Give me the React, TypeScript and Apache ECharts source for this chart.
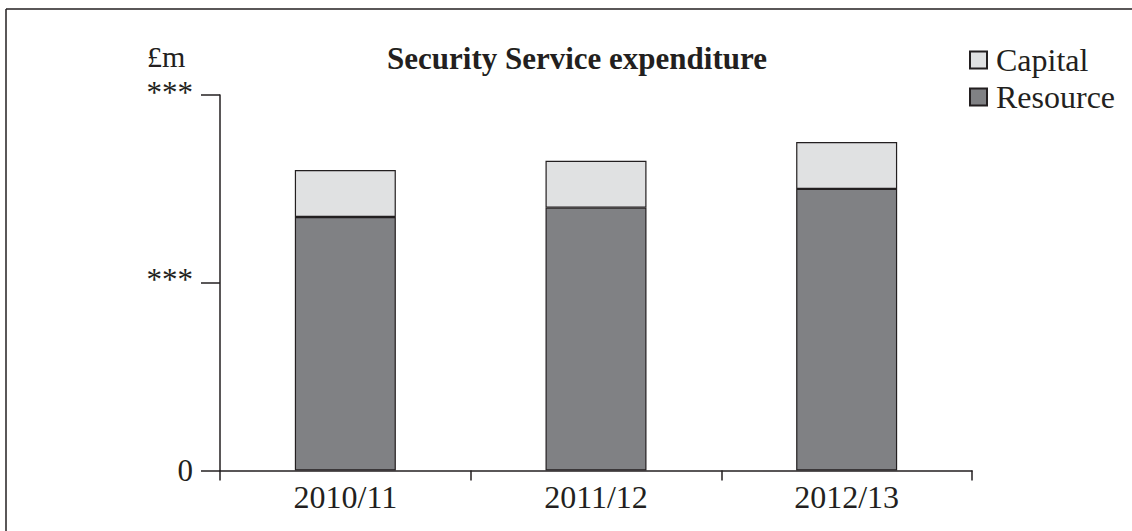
import React, { useEffect, useRef } from "react";
import * as echarts from "echarts";

const categories = ["2010/11", "2011/12", "2012/13"];
const resource = [135, 140, 150];
const capital = [25, 25, 25];
const yTickLabels: Record<number, string> = { 0: "0", 100: "***", 200: "***" };

const INK = "#231f20";
const FONT = "'Liberation Serif', 'Times New Roman', serif";

export default function App() {
  const ref = useRef<HTMLDivElement>(null);
  useEffect(() => {
    if (!ref.current) return;
    const chart = echarts.init(ref.current, undefined, { renderer: "svg" });
    chart.setOption({
      animation: false,
      backgroundColor: "#ffffff",
      textStyle: { fontFamily: FONT, color: INK },
      title: {
        text: "Security Service expenditure",
        left: 572,
        top: 38,
        textAlign: "center",
        textStyle: { fontFamily: FONT, fontWeight: "bold", fontSize: 31, color: INK },
      },
      legend: {
        orient: "vertical",
        left: 964,
        top: 39,
        itemWidth: 17,
        itemHeight: 17,
        itemGap: 5,
        icon: "rect",
        data: ["Capital", "Resource"],
        textStyle: { fontFamily: FONT, fontSize: 32, color: INK, padding: [0, 0, 0, 4] },
      },
      grid: { left: 220, right: 160, top: 95, bottom: 60.5 },
      xAxis: {
        type: "category",
        data: categories,
        axisLine: { lineStyle: { color: INK, width: 1.5 } },
        axisTick: { show: true, length: 10, lineStyle: { color: INK, width: 1.5 } },
        axisLabel: { fontFamily: FONT, fontSize: 32, color: INK, margin: 10 },
      },
      yAxis: {
        type: "value",
        min: 0,
        max: 200,
        interval: 100,
        splitLine: { show: false },
        axisLine: { show: true, lineStyle: { color: INK, width: 1.5 } },
        axisTick: { show: true, length: 19, lineStyle: { color: INK, width: 1.5 } },
        axisLabel: {
          fontFamily: FONT,
          fontSize: 31,
          color: INK,
          margin: 27,
          formatter: (v: number) => {
            const t = yTickLabels[v] ?? "";
            return v === 0 ? t : `{s|${t}}`;
          },
          rich: {
            s: { fontFamily: FONT, fontSize: 31, color: INK, padding: [0, 0, 6, 0] },
          },
        },
      },
      series: [
        {
          name: "Resource",
          type: "bar",
          stack: "total",
          barWidth: 101,
          data: resource,
          itemStyle: { color: "#808184", borderColor: INK, borderWidth: 1.2 },
        },
        {
          name: "Capital",
          type: "bar",
          stack: "total",
          barWidth: 101,
          data: capital,
          itemStyle: { color: "#e0e1e2", borderColor: INK, borderWidth: 1.2 },
        },
      ],
      graphic: [
        {
          type: "text",
          left: 147,
          top: 41,
          style: { text: "£m", font: `30px ${FONT}`, fill: INK },
        },
        {
          type: "line",
          shape: { x1: 6, y1: 9, x2: 1132, y2: 9 },
          style: { stroke: INK, lineWidth: 1.5 },
        },
        {
          type: "line",
          shape: { x1: 6, y1: 9, x2: 6, y2: 531 },
          style: { stroke: INK, lineWidth: 1.5 },
        },
      ],
    });
    return () => chart.dispose();
  }, []);
  return (
    <div
      ref={ref}
      style={{ position: "absolute", left: 0, top: 0, width: 1132, height: 531 }}
    />
  );
}
